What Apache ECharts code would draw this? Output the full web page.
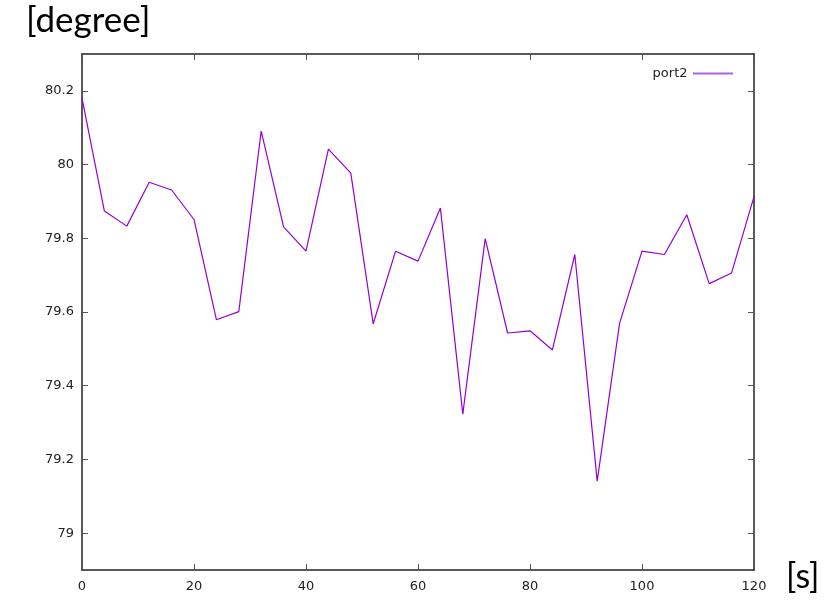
<!DOCTYPE html>
<html>
<head>
<meta charset="utf-8">
<script src="https://cdn.jsdelivr.net/npm/echarts@6/dist/echarts.min.js"></script>
<style>
  html, body { margin: 0; padding: 0; background: #fff; }
  #chart { width: 827px; height: 602px; }
</style>
</head>
<body>
<div id="chart"></div>
<script>
// time in seconds, one sample every 4 s
const times = [0, 4, 8, 12, 16, 20, 24, 28, 32, 36, 40, 44, 48, 52, 56, 60,
  64, 68, 72, 76, 80, 84, 88, 92, 96, 100, 104, 108, 112, 116, 120]
// port2 angle in degree
const port2 = [80.18, 79.874, 79.833, 79.952, 79.931, 79.851, 79.579, 79.601,
  80.091, 79.831, 79.765, 80.042, 79.977, 79.568, 79.765, 79.738,
  79.882, 79.323, 79.799, 79.543, 79.549, 79.497, 79.756, 79.141,
  79.57, 79.765, 79.756, 79.864, 79.677, 79.706, 79.913]
const yTicks = [79, 79.2, 79.4, 79.6, 79.8, 80, 80.2]

const lineColor = '#9400d3'
const axisColor = '#222'
const labelFont = 'DejaVu Sans'

const chart = echarts.init(document.getElementById('chart'))

// gnuplot style frame: ticks inward, mirrored on top/right
function xAxisOf(pos, showLabel) {
  return {
    type: 'value',
    position: pos,
    min: 0,
    max: 120,
    interval: 20,
    axisLine: { show: true, onZero: false, lineStyle: { color: axisColor, width: 1.5 } },
    axisTick: { show: true, inside: true, length: 6, lineStyle: { color: '#555', width: 1 } },
    axisLabel: { show: showLabel, color: '#222', fontFamily: labelFont, fontSize: 13, margin: 10 },
    splitLine: { show: false }
  }
}

function yAxisOf(pos, showLabel) {
  return {
    type: 'value',
    position: pos,
    min: 78.9,
    max: 80.3,
    axisLine: { show: true, onZero: false, lineStyle: { color: axisColor, width: 1.5 } },
    axisTick: { show: true, inside: true, length: 6, customValues: yTicks, lineStyle: { color: '#555', width: 1 } },
    axisLabel: {
      show: showLabel,
      customValues: yTicks,
      color: '#222',
      fontFamily: labelFont,
      fontSize: 13,
      margin: 8,
      formatter: (v) => String(parseFloat(v.toFixed(1)))
    },
    splitLine: { show: false }
  }
}

const option = {
  backgroundColor: '#fff',
  animation: false,
  grid: { left: 82, top: 54, right: 73, bottom: 32, containLabel: false },
  xAxis: [xAxisOf('bottom', true), xAxisOf('top', false)],
  yAxis: [yAxisOf('left', true), yAxisOf('right', false)],
  legend: {
    right: 89,
    top: 62,
    align: 'right',
    itemWidth: 41,
    itemHeight: 2,
    icon: 'path://M0 0H40V2H0Z',
    itemStyle: { color: '#b45ee8' },
    textStyle: { color: '#222', fontFamily: labelFont, fontSize: 13 },
    data: ['port2']
  },
  graphic: [
    {
      type: 'text',
      left: 26,
      top: 3,
      style: { text: '[degree]', font: '35px Lato', fill: '#000' }
    },
    {
      type: 'text',
      left: 786,
      top: 560,
      style: { text: '[s]', font: '34px Lato', fill: '#000' }
    }
  ],
  series: [
    {
      name: 'port2',
      type: 'line',
      data: times.map((t, i) => [t, port2[i]]),
      symbol: 'none',
      lineStyle: { color: lineColor, width: 1.2 },
      itemStyle: { color: lineColor }
    }
  ]
}

chart.setOption(option)
</script>
</body>
</html>
